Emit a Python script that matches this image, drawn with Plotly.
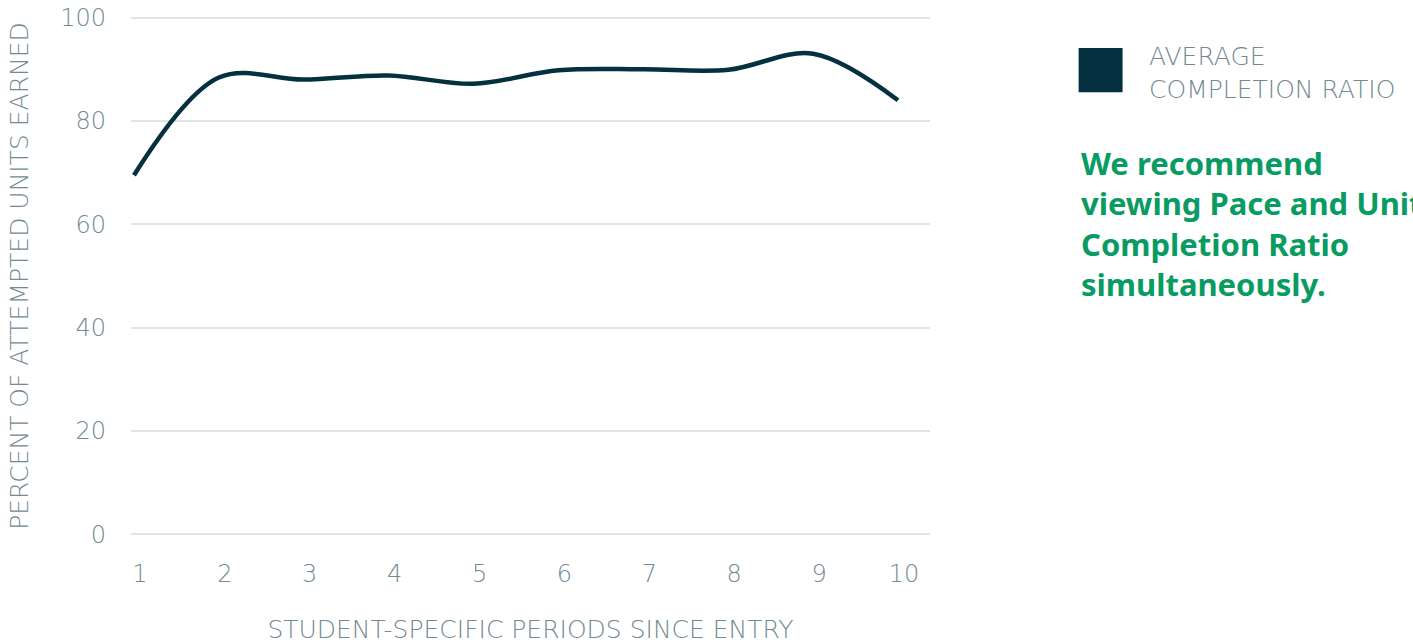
import plotly.graph_objects as go

periods = [1, 2, 3, 4, 5, 6, 7, 8, 9, 10]
completion_ratio = [69.5, 88.4, 88.0, 88.8, 87.2, 89.8, 90.0, 89.9, 93.0, 84.0]
series_name = "AVERAGE<br>COMPLETION RATIO"
y_ticks = [0, 20, 40, 60, 80, 100]
note_text = "We recommend<br>viewing Pace and Unit<br>Completion Ratio<br>simultaneously."

LINE = "#04303f"
GRAY = "#728a91"
GRID = "#dfe5e5"
GREEN = "#089c63"
FONT = "DejaVu Sans"
BOLD_FONT = "Noto Sans"

fig = go.Figure()
fig.add_trace(go.Scatter(
    x=periods, y=completion_ratio, mode="lines",
    line=dict(color=LINE, width=4.5, shape="spline", smoothing=1.0),
    showlegend=False, hoverinfo="x+y",
))

fig.update_layout(
    width=1413, height=644, autosize=False,
    margin=dict(l=131, r=483, t=15, b=107),
    paper_bgcolor="white", plot_bgcolor="white",
    font=dict(family=FONT, color=GRAY),
    xaxis=dict(
        range=[0.965, 10.377], tickvals=periods, showgrid=False, zeroline=False,
        showline=False, ticks="", tickfont=dict(size=24, color=GRAY, weight=300),
        ticklabelshift=6, ticklabelstandoff=20, automargin=False,
        title=dict(text="STUDENT-SPECIFIC PERIODS SINCE ENTRY",
                   font=dict(size=25, color=GRAY, weight=300), standoff=44),
    ),
    yaxis=dict(
        range=[-0.5, 100.5], tickvals=y_ticks, showgrid=True, gridcolor=GRID, gridwidth=2,
        zeroline=False, showline=False, ticks="", tickfont=dict(size=24, color=GRAY, weight=300),
        ticklabelstandoff=24, automargin=False,
        title=dict(text="PERCENT OF ATTEMPTED UNITS EARNED",
                   font=dict(size=25, color=GRAY, weight=300), standoff=24),
    ),
    shapes=[dict(type="rect", xref="paper", yref="paper",
                 x0=1.186, x1=1.241, y0=0.852, y1=0.937,
                 fillcolor=LINE, line=dict(width=0))],
    annotations=[
        dict(text=series_name, xref="paper", yref="paper", x=1.271, y=0.889,
             xanchor="left", yanchor="middle", align="left", showarrow=False,
             font=dict(size=25, color=GRAY, family=FONT, weight=300)),
        dict(text="<b>" + note_text + "</b>", xref="paper", yref="paper",
             x=1.186, y=0.761, xanchor="left", yanchor="top", align="left",
             showarrow=False, font=dict(size=31, color=GREEN, family=BOLD_FONT)),
    ],
)

fig.write_html("out.html", config={"displayModeBar": False},
               post_script="document.body.style.margin='0';")
